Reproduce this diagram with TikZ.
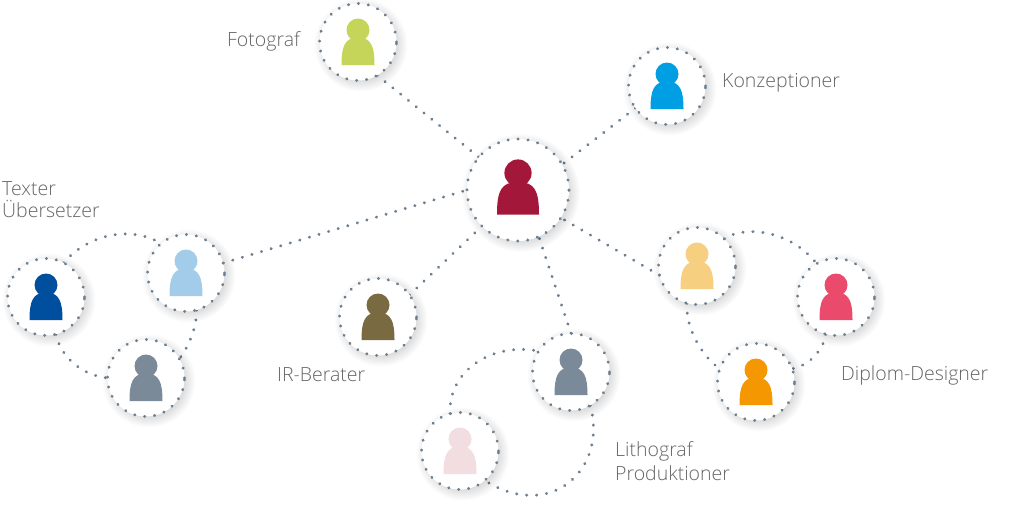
\documentclass[tikz,border=0pt]{standalone}
\usepackage{fontspec}
\setmainfont{Open Sans Light}[BoldFont=Open Sans]
\usetikzlibrary{backgrounds}
\definecolor{dotc}{HTML}{6C7F90}
\definecolor{labc}{HTML}{666666}
\definecolor{cRed}{HTML}{A3173A}
\definecolor{cNavy}{HTML}{004F9E}
\definecolor{cSky}{HTML}{A3CCEB}
\definecolor{cSlate}{HTML}{7A8A99}
\definecolor{cGreen}{HTML}{C5D55A}
\definecolor{cCyan}{HTML}{009FE3}
\definecolor{cBrown}{HTML}{7A6A42}
\definecolor{cBlush}{HTML}{F2DDE0}
\definecolor{cSand}{HTML}{F6CF80}
\definecolor{cRose}{HTML}{EA4A6B}
\definecolor{cAmber}{HTML}{F49700}
\tikzset{
  dotline/.style={draw=dotc,line width=3.2pt,line cap=round,dash pattern=on 0.05pt off 9.95pt},
  rolecircle/.style={circle,inner sep=0pt,outer sep=0pt,minimum size=77pt,fill=white,dotline},
  hubcircle/.style={rolecircle,minimum size=102pt},
  rolelabel/.style={anchor=base west,inner sep=0pt,text=labc,font=\fontsize{19.5}{23}\selectfont},
}
\newcommand{\persona}[2]{%
  \fill[#2,shift={(#1)}] (0,-12) circle (11.5pt);
  \fill[#2,shift={(#1)}] (-16.5,23) .. controls (-16.5,4) and (-13,-4.5) .. (0,-4.5)
     .. controls (13,-4.5) and (16.5,4) .. (16.5,23) -- cycle;}
\newcommand{\softshadow}[2]{%
  \foreach \d in {8,7,...,-3}{\fill[black,opacity=0.012] ([shift={(3,3)}]#1.center) circle ({#2+\d*1pt});}}
\begin{document}
\begin{tikzpicture}[x=1pt,y=-1pt]
\useasboundingbox (0,0) rectangle (1024,509);
\node[hubcircle]  (hub)   at (518,190) {};
\node[rolecircle] (foto)  at (358,42)  {};
\node[rolecircle] (konz)  at (667,86)  {};
\node[rolecircle] (navy)  at (46,297)  {};
\node[rolecircle] (sky)   at (186,273) {};
\node[rolecircle] (slate) at (146,378) {};
\node[rolecircle] (ir)    at (378,317) {};
\node[rolecircle] (litho) at (571,372) {};
\node[rolecircle] (blush) at (460,451) {};
\node[rolecircle] (sand)  at (697,266) {};
\node[rolecircle] (rose)  at (836,297) {};
\node[rolecircle] (amber) at (756,382) {};
\begin{pgfonlayer}{background}
\fill[white] (0,0) rectangle (1024,509);
\draw[dotline] (foto.300) -- (hub.140);
\draw[dotline] (konz.215) -- (hub.30);
\draw[dotline] (sky.15) -- (hub.180);
\draw[dotline] (ir.35) -- (hub.225);
\draw[dotline] (litho.90) -- (hub.294);
\draw[dotline] (sand.194) -- (hub.327);
\draw[dotline] (navy.63) .. controls (92,231) and (134,227) .. (sky.130);
\draw[dotline] (sky.286) .. controls (197,325) and (190,345) .. (slate.30);
\draw[dotline] (navy.285) .. controls (60,355) and (80,375) .. (slate.180);
\draw[dotline] (blush.105) .. controls (448,372) and (490,342) .. (litho.147);
\draw[dotline] (litho.300) .. controls (608,470) and (550,522) .. (blush.310);
\draw[dotline] (sand.45) .. controls (745,225) and (790,230) .. (rose.120);
\draw[dotline] (rose.255) .. controls (823,350) and (810,365) .. (amber.20);
\draw[dotline] (sand.255) .. controls (685,325) and (700,355) .. (amber.160);
\softshadow{hub}{51pt}
\softshadow{foto}{38.5pt}
\softshadow{konz}{38.5pt}
\softshadow{navy}{38.5pt}
\softshadow{sky}{38.5pt}
\softshadow{slate}{38.5pt}
\softshadow{ir}{38.5pt}
\softshadow{litho}{38.5pt}
\softshadow{blush}{38.5pt}
\softshadow{sand}{38.5pt}
\softshadow{rose}{38.5pt}
\softshadow{amber}{38.5pt}
\end{pgfonlayer}
\fill[cRed,shift={(hub.center)}] (0,-17) circle (13.6pt);
\fill[cRed,shift={(hub.center)}] (-21,24.5) .. controls (-21,1) and (-17,-8) .. (0,-8)
     .. controls (17,-8) and (21,1) .. (21,24.5) -- cycle;
\persona{foto.center}{cGreen}
\persona{konz.center}{cCyan}
\persona{navy.center}{cNavy}
\persona{sky.center}{cSky}
\persona{slate.center}{cSlate}
\persona{ir.center}{cBrown}
\persona{litho.center}{cSlate}
\persona{blush.center}{cBlush}
\persona{sand.center}{cSand}
\persona{rose.center}{cRose}
\persona{amber.center}{cAmber}
\node[rolelabel] (lfoto) at (227,46) {Fotograf};
\node[rolelabel] (lkonz) at (722,87) {Konzeptioner};
\node[rolelabel] (ltext) at (2,195) {Texter};
\node[rolelabel] (luebs) at (2,217) {Übersetzer};
\node[rolelabel] (lir)   at (277,381) {IR-Berater};
\node[rolelabel] (llith) at (615,456) {Lithograf};
\node[rolelabel] (lprod) at (615,480) {Produktioner};
\node[rolelabel] (ldipl) at (841,380) {Diplom-Designer};
\end{tikzpicture}
\end{document}
